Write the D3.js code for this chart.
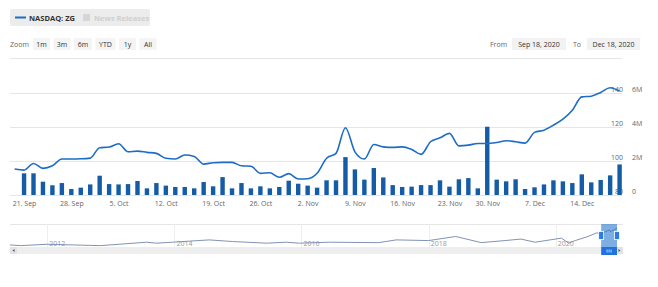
<!DOCTYPE html>
<html>
<head>
<meta charset="utf-8">
<script src="https://cdn.jsdelivr.net/npm/d3@7"></script>
<style>
  body { margin: 0; background: #fff; }
  svg { display: block; font-family: "Open Sans", sans-serif; }
</style>
</head>
<body>
<div id="chart"></div>
<script>
const tradingDays = [
  '2020-09-18', '2020-09-21', '2020-09-22', '2020-09-23', '2020-09-24', '2020-09-25',
  '2020-09-28', '2020-09-29', '2020-09-30', '2020-10-01', '2020-10-02',
  '2020-10-05', '2020-10-06', '2020-10-07', '2020-10-08', '2020-10-09',
  '2020-10-12', '2020-10-13', '2020-10-14', '2020-10-15', '2020-10-16',
  '2020-10-19', '2020-10-20', '2020-10-21', '2020-10-22', '2020-10-23',
  '2020-10-26', '2020-10-27', '2020-10-28', '2020-10-29', '2020-10-30',
  '2020-11-02', '2020-11-03', '2020-11-04', '2020-11-05', '2020-11-06',
  '2020-11-09', '2020-11-10', '2020-11-11', '2020-11-12', '2020-11-13',
  '2020-11-16', '2020-11-17', '2020-11-18', '2020-11-19', '2020-11-20',
  '2020-11-23', '2020-11-24', '2020-11-25', '2020-11-27',
  '2020-11-30', '2020-12-01', '2020-12-02', '2020-12-03', '2020-12-04',
  '2020-12-07', '2020-12-08', '2020-12-09', '2020-12-10', '2020-12-11',
  '2020-12-14', '2020-12-15', '2020-12-16', '2020-12-17', '2020-12-18',
];

const closePrices = [
  95.2, 94.6, 98.5, 95.6, 97.1, 101.1,
  101.1, 101.2, 101.6, 107.7, 108.1,
  110.0, 105.3, 105.7, 105.0, 104.4,
  101.5, 101.1, 103.4, 102.6, 98.1,
  98.9, 99.1, 99.1, 97.1, 96.8,
  92.7, 93.0, 90.4, 92.5, 89.4,
  89.5, 92.7, 101.5, 104.4, 119.4,
  105.3, 101.1, 109.6, 108.2, 107.9,
  108.2, 106.7, 103.8, 111.2, 113.5,
  116.1, 108.8, 109.2, 110.2,
  110.2, 110.8, 111.8, 111.2, 110.4,
  116.7, 118.0, 120.9, 124.4, 129.7,
  137.5, 137.9, 140.1, 142.8, 140.8,
];

// volume in millions of shares
const volumes = [
  null, 1.27, 1.27, 0.78, 0.57, 0.70,
  0.35, 0.43, 0.62, 1.13, 0.64,
  0.62, 0.64, 0.82, 0.39, 0.70,
  0.55, 0.47, 0.47, 0.39, 0.76,
  0.51, 1.05, 0.39, 0.70, 0.39,
  0.51, 0.39, 0.47, 0.84, 0.66,
  0.55, 0.43, 0.86, 0.86, 2.22,
  1.50, 0.90, 1.58, 1.03, 0.58,
  0.47, 0.49, 0.58, 0.58, 0.86,
  0.49, 0.92, 0.99, 0.39,
  4.00, 0.90, 0.80, 0.92, 0.35,
  0.45, 0.62, 0.86, 0.80, 0.70,
  1.21, 0.74, 0.88, 1.15, 1.79,
];

const weekTicks = [
  '2020-09-21', '2020-09-28', '2020-10-05', '2020-10-12', '2020-10-19', '2020-10-26',
  '2020-11-02', '2020-11-09', '2020-11-16', '2020-11-23', '2020-11-30',
  '2020-12-07', '2020-12-14',
];
const priceGrid = [80, 100, 120, 140, 160];
const priceTicks = [80, 100, 120, 140];
const volumeTicks = [0, 2, 4, 6];

const navDates = [
  '2011-06-01', '2011-08-01', '2012-01-01', '2012-11-01', '2013-07-25', '2013-09-20',
  '2013-12-20', '2014-07-20', '2014-12-01', '2015-06-15', '2015-10-05', '2015-12-20',
  '2016-06-10', '2017-03-20', '2017-06-28', '2018-01-01', '2018-06-05', '2018-10-30',
  '2019-03-15', '2019-06-15', '2019-09-05', '2020-02-03', '2020-03-15', '2020-04-22',
  '2020-07-05', '2020-08-22', '2020-09-18', '2020-11-06', '2020-11-10', '2020-12-18',
];
const navValues = [
  15, 10, 20, 10, 35, 28,
  35, 52, 40, 28, 35, 28,
  35, 32, 52, 47, 77, 32,
  47, 58, 35, 65, 28, 47,
  77, 103, 100, 125, 112, 138,
];
const navYears = [2012, 2014, 2016, 2018, 2020];

const zoomButtons = ['1m', '3m', '6m', 'YTD', '1y', 'All'];
const buttonWidths = [17, 17, 18, 20, 17, 17];

const WIDTH = 658;
const HEIGHT = 287;
const PLOT_LEFT = 10;
const PLOT_RIGHT = 622;
const BASE_Y = 195;
const LINE_COLOR = '#1d6cc6';
const BAR_COLOR = '#155ca6';

const parseDay = d3.utcParse('%Y-%m-%d');
const formatTick = d3.utcFormat('%-d. %b');

const drawChart = () => {
  const svg = d3.create('svg').attr('width', WIDTH).attr('height', HEIGHT);

  // legend box
  const legend = svg.append('g');
  legend.append('rect')
    .attr('x', 10).attr('y', 9).attr('width', 140).attr('height', 17)
    .attr('rx', 2).attr('fill', '#ececec');
  legend.append('line')
    .attr('x1', 15).attr('x2', 26).attr('y1', 17.5).attr('y2', 17.5)
    .attr('stroke', LINE_COLOR).attr('stroke-width', 2);
  legend.append('text')
    .attr('x', 29).attr('y', 20.5)
    .attr('font-size', 7.5).attr('font-weight', 'bold').attr('fill', '#333')
    .text('NASDAQ: ZG');
  legend.append('rect')
    .attr('x', 83).attr('y', 14).attr('width', 7).attr('height', 7)
    .attr('fill', '#d6d6d6');
  legend.append('text')
    .attr('x', 94).attr('y', 20.5)
    .attr('font-size', 7.5).attr('font-weight', 'bold').attr('fill', '#cfcfcf')
    .text('News Releases');

  // range selector
  const selector = svg.append('g').attr('font-size', 7);
  selector.append('text')
    .attr('x', 10).attr('y', 46.5).attr('fill', '#666').text('Zoom');

  const buttonX = buttonWidths.reduce((acc, w, i) => {
    acc.push(i === 0 ? 33 : acc[i - 1] + buttonWidths[i - 1] + 3.5);
    return acc;
  }, []);

  const buttons = selector.selectAll('g.btn')
    .data(zoomButtons)
    .join('g')
    .attr('class', 'btn')
    .attr('transform', (_, i) => `translate(${buttonX[i]}, 38)`);
  buttons.append('rect')
    .attr('width', (_, i) => buttonWidths[i]).attr('height', 12)
    .attr('fill', '#f4f4f4');
  buttons.append('text')
    .attr('x', (_, i) => buttonWidths[i] / 2).attr('y', 8.5)
    .attr('text-anchor', 'middle').attr('fill', '#333')
    .text((d) => d);

  const inputs = [
    { label: 'From', lx: 490, bx: 512, bw: 54, value: 'Sep 18, 2020' },
    { label: 'To', lx: 573, bx: 587, bw: 53, value: 'Dec 18, 2020' },
  ];
  inputs.forEach(({ label, lx, bx, bw, value }) => {
    selector.append('text').attr('x', lx).attr('y', 46.5).attr('fill', '#666').text(label);
    selector.append('rect')
      .attr('x', bx).attr('y', 38).attr('width', bw).attr('height', 12)
      .attr('fill', '#f2f2f2');
    selector.append('text')
      .attr('x', bx + bw / 2).attr('y', 46.5)
      .attr('text-anchor', 'middle').attr('fill', '#333').text(value);
  });

  // scales
  const x = d3.scalePoint().domain(tradingDays).range([14.6, 619.6]);
  const yPrice = d3.scaleLinear().domain([80, 140]).range([BASE_Y, 92.6]);
  const yVolume = d3.scaleLinear().domain([0, 6]).range([BASE_Y, 92.6]);

  // grid
  svg.append('g')
    .selectAll('line')
    .data(priceGrid)
    .join('line')
    .attr('x1', PLOT_LEFT).attr('x2', PLOT_RIGHT)
    .attr('y1', (d) => Math.round(yPrice(d)) + 0.5)
    .attr('y2', (d) => Math.round(yPrice(d)) + 0.5)
    .attr('stroke', '#e6e6e6');

  // right axes labels
  svg.append('g')
    .attr('font-size', 7).attr('fill', '#666').attr('text-anchor', 'end')
    .selectAll('text')
    .data(priceTicks)
    .join('text')
    .attr('x', 623).attr('y', (d) => yPrice(d) - 1)
    .text((d) => d);

  svg.append('g')
    .attr('font-size', 7).attr('fill', '#666')
    .selectAll('text')
    .data(volumeTicks)
    .join('text')
    .attr('x', 632).attr('y', (d) => yVolume(d) - 1)
    .text((d) => (d === 0 ? '0' : `${d}M`));

  // x axis
  const xAxis = d3.axisBottom(x)
    .tickValues(weekTicks)
    .tickSize(0)
    .tickPadding(6)
    .tickFormat((d) => formatTick(parseDay(d)));

  svg.append('g')
    .attr('transform', `translate(0, ${BASE_Y})`)
    .call(xAxis)
    .call((g) => g.select('.domain').remove())
    .call((g) => g.selectAll('text')
      .attr('font-size', 7).attr('fill', '#666')
      .attr('font-family', '"Open Sans", sans-serif'));

  // volume bars
  const barWidth = 4.4;
  svg.append('g')
    .selectAll('rect')
    .data(tradingDays.map((day, i) => ({ day, v: volumes[i] })).filter((d) => d.v != null))
    .join('rect')
    .attr('x', (d) => x(d.day) - barWidth / 2)
    .attr('y', (d) => yVolume(d.v))
    .attr('width', barWidth)
    .attr('height', (d) => BASE_Y - yVolume(d.v))
    .attr('fill', BAR_COLOR);

  // price line
  const priceLine = d3.line()
    .x((_, i) => x(tradingDays[i]))
    .y((d) => yPrice(d))
    .curve(d3.curveMonotoneX);

  svg.append('path')
    .datum(closePrices)
    .attr('d', priceLine)
    .attr('fill', 'none')
    .attr('stroke', LINE_COLOR)
    .attr('stroke-width', 1.6);

  // navigator
  const NAV_TOP = 224;
  const NAV_BOTTOM = 247;
  const navX = d3.scaleUtc()
    .domain([parseDay('2011-06-01'), parseDay('2020-12-18')])
    .range([10, 617]);
  const navY = d3.scaleLinear().domain([0, 150]).range([NAV_BOTTOM, 226.5]);

  const nav = svg.append('g');
  nav.append('line')
    .attr('x1', PLOT_LEFT).attr('x2', 623)
    .attr('y1', NAV_TOP + 0.5).attr('y2', NAV_TOP + 0.5)
    .attr('stroke', '#e6e6e6');

  nav.selectAll('line.year')
    .data(navYears)
    .join('line')
    .attr('class', 'year')
    .attr('x1', (d) => Math.round(navX(new Date(Date.UTC(d, 0, 1)))) + 0.5)
    .attr('x2', (d) => Math.round(navX(new Date(Date.UTC(d, 0, 1)))) + 0.5)
    .attr('y1', NAV_TOP).attr('y2', NAV_BOTTOM)
    .attr('stroke', '#eeeeee');

  nav.selectAll('text.year')
    .data(navYears)
    .join('text')
    .attr('class', 'year')
    .attr('x', (d) => navX(new Date(Date.UTC(d, 0, 1))) + 2)
    .attr('y', 245.5)
    .attr('font-size', 7).attr('fill', '#999')
    .text((d) => d);

  const navLine = d3.line()
    .x((_, i) => navX(parseDay(navDates[i])))
    .y((d) => navY(d));

  nav.append('path')
    .datum(navValues)
    .attr('d', navLine)
    .attr('fill', 'none')
    .attr('stroke', '#8193b5')
    .attr('stroke-width', 1);

  // scrollbar
  nav.append('rect')
    .attr('x', PLOT_LEFT).attr('y', NAV_BOTTOM).attr('width', 613).attr('height', 7)
    .attr('fill', '#eeeeee');
  [PLOT_LEFT, 616].forEach((bx, i) => {
    nav.append('rect')
      .attr('x', bx).attr('y', NAV_BOTTOM).attr('width', 7).attr('height', 7)
      .attr('fill', '#e2e2e2');
    nav.append('path')
      .attr('d', i === 0
        ? `M${bx + 4.5},${NAV_BOTTOM + 2} L${bx + 2.5},${NAV_BOTTOM + 3.5} L${bx + 4.5},${NAV_BOTTOM + 5}Z`
        : `M${bx + 2.5},${NAV_BOTTOM + 2} L${bx + 4.5},${NAV_BOTTOM + 3.5} L${bx + 2.5},${NAV_BOTTOM + 5}Z`)
      .attr('fill', '#555');
  });

  const selStart = navX(parseDay(tradingDays[0]));
  const selEnd = navX(parseDay(tradingDays[tradingDays.length - 1]));

  nav.append('rect')
    .attr('x', selStart).attr('y', NAV_TOP)
    .attr('width', selEnd - selStart).attr('height', NAV_BOTTOM - NAV_TOP)
    .attr('fill', 'rgba(40, 118, 205, 0.6)');

  nav.append('rect')
    .attr('x', selStart).attr('y', NAV_BOTTOM)
    .attr('width', selEnd - selStart).attr('height', 8)
    .attr('fill', '#1e73e0');
  [-2, 0, 2].forEach((dx) => {
    nav.append('line')
      .attr('x1', (selStart + selEnd) / 2 + dx).attr('x2', (selStart + selEnd) / 2 + dx)
      .attr('y1', NAV_BOTTOM + 2.5).attr('y2', NAV_BOTTOM + 5.5)
      .attr('stroke', '#fff').attr('stroke-width', 0.7);
  });

  [selStart, selEnd].forEach((hx) => {
    nav.append('rect')
      .attr('x', hx - 2.5).attr('y', 231.5).attr('width', 5).attr('height', 8)
      .attr('fill', '#2a7de1').attr('stroke', '#fff').attr('stroke-width', 0.8);
  });

  document.getElementById('chart').appendChild(svg.node());
};

drawChart();
</script>
</body>
</html>
